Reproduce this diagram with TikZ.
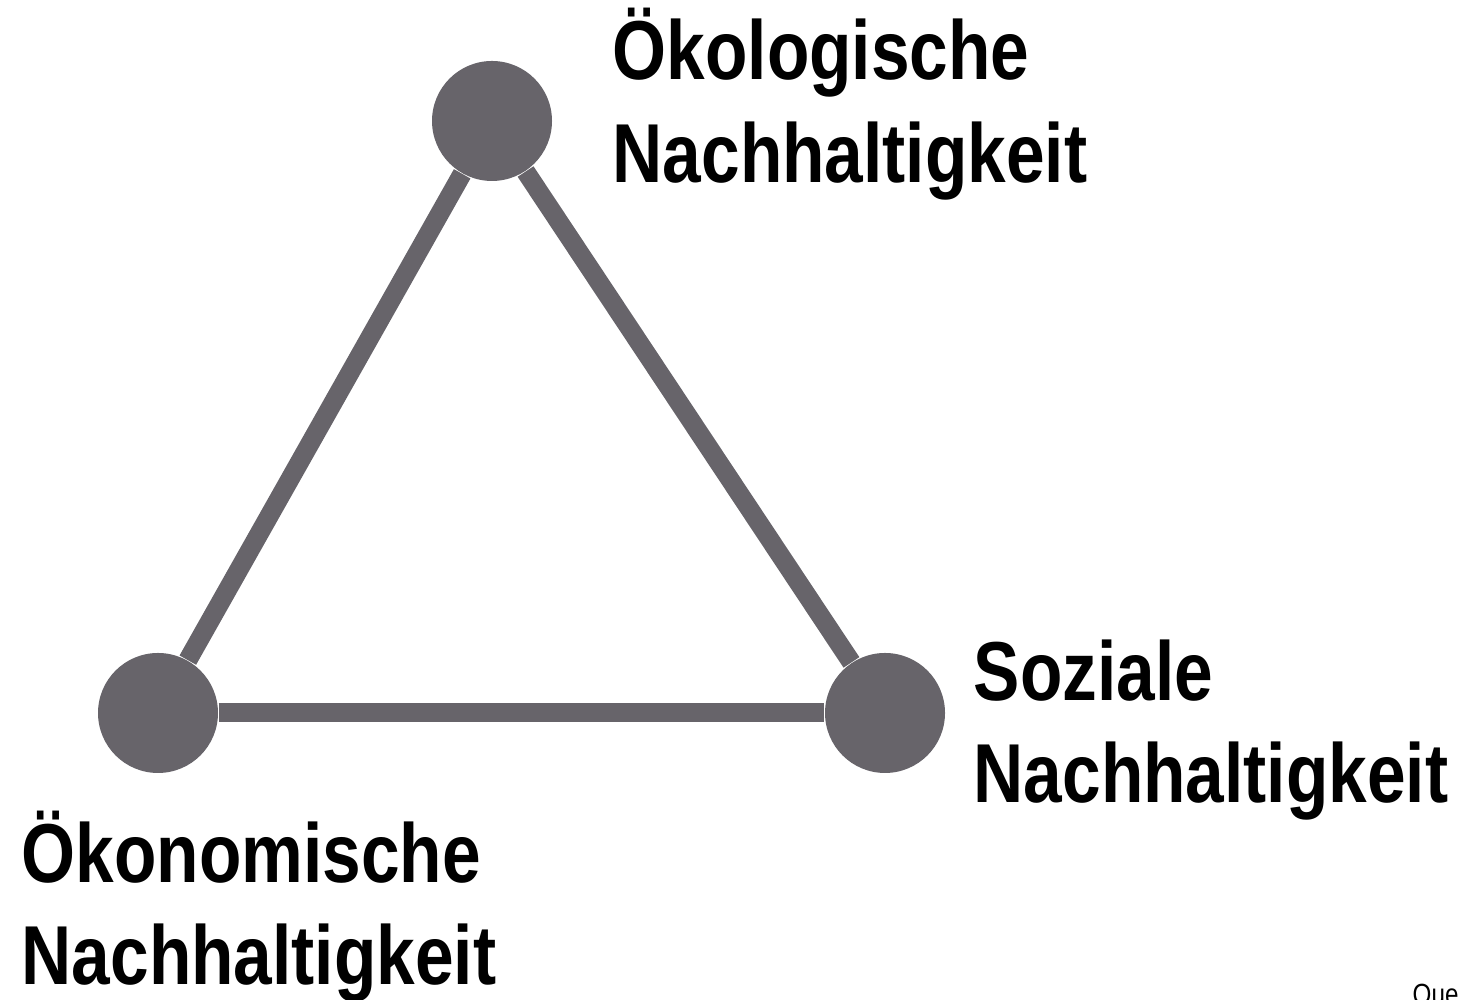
\documentclass[tikz,border=0pt]{standalone}
\usepackage{fontspec}
\setmainfont{Liberation Sans}[FakeStretch=0.83]
\definecolor{dotgrey}{HTML}{67646A}
\begin{document}
\begin{tikzpicture}[x=1cm,y=1cm,
  dot/.style={circle,fill=dotgrey,draw=none,minimum size=1.2cm,inner sep=0pt},
  link/.style={draw=dotgrey,line width=0.19cm},
  lbl/.style={anchor=base west,align=left,inner sep=0pt,
    font=\fontsize{23.8}{29.3}\selectfont\bfseries},
  note/.style={anchor=base west,inner sep=0pt,font=\fontsize{8.3}{9}\selectfont}]
\useasboundingbox (0,0) rectangle (14.58,10);
\node[dot] (oek) at (4.92,8.79) {};
\node[dot] (eco) at (1.58,2.87) {};
\node[dot] (soz) at (8.85,2.87) {};
\draw[link] (oek) -- (eco);
\draw[link] (oek) -- (soz);
\draw[link] (eco) -- (soz);
\node[lbl] (toplbl) at (6.12,8.17) {Ökologische\\Nachhaltigkeit};
\node[lbl] (rightlbl) at (9.73,1.97) {Soziale\\Nachhaltigkeit};
\node[lbl] (leftlbl) at (0.21,0.15) {Ökonomische\\Nachhaltigkeit};
\node[note] (src) at (14.12,-0.05) {Que};
\end{tikzpicture}
\end{document}
